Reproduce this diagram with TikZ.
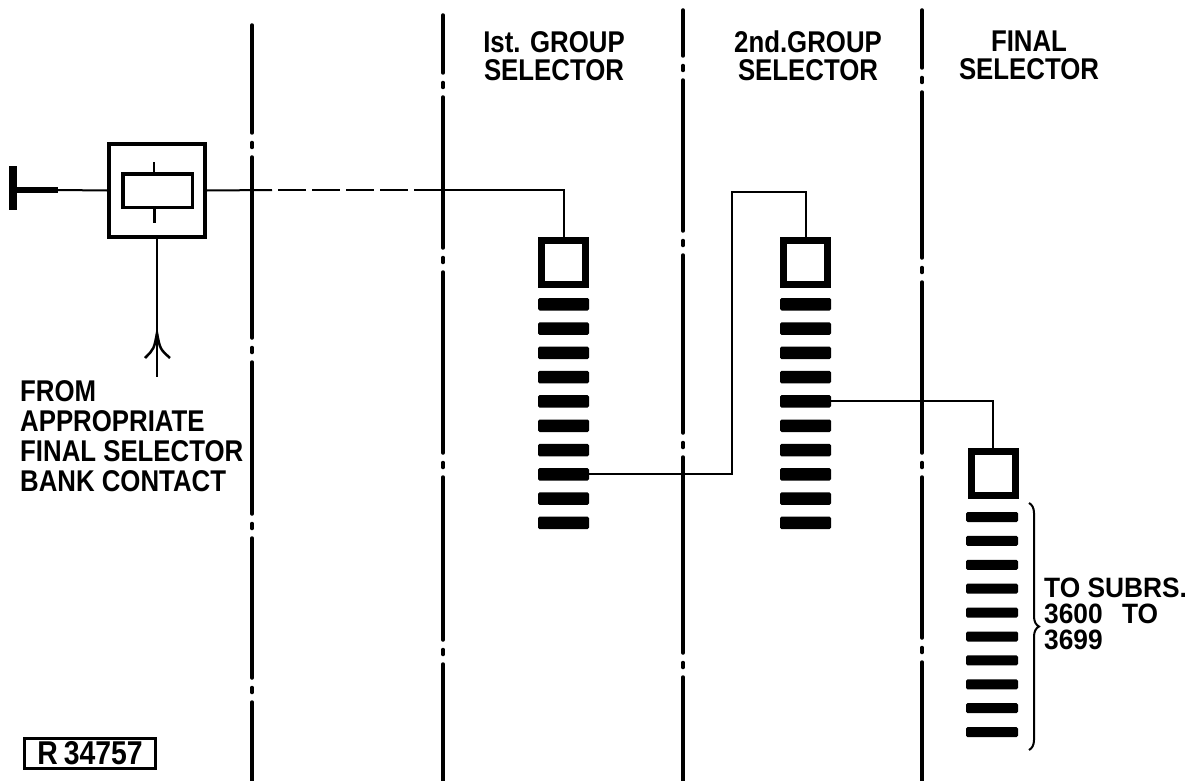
\documentclass[tikz,border=0pt]{standalone}
\usepackage{fontspec}
\newfontfamily\labfont[FakeStretch=0.86]{Liberation Sans}
\newfontfamily\widefont[FakeStretch=0.94]{Liberation Sans}
\usetikzlibrary{decorations.pathreplacing}
\begin{document}
\begin{tikzpicture}[x=1pt,y=-1pt,
  ddl/.style={line width=3.5pt, line cap=round},
  wire/.style={line width=2pt},
  bar/.style={fill=black, rounded corners=1.5pt, inner sep=0pt, minimum width=51pt, minimum height=12.5pt},
  thinbar/.style={bar, minimum width=52pt, minimum height=10pt},
  sel/.style={draw, line width=7pt, inner sep=0pt, minimum size=44pt},
  hdr/.style={inner sep=0pt, align=center, anchor=north, font=\labfont\bfseries\fontsize{30}{28}\selectfont},
  lab/.style={inner sep=0pt, align=left, anchor=north west, font=\labfont\bfseries\fontsize{30}{30}\selectfont},
  rlab/.style={inner sep=0pt, align=left, anchor=north west, font=\widefont\bfseries\fontsize{28}{26}\selectfont}]
\useasboundingbox (0,0) rectangle (1194,781);

% ---- dash-dot division lines ----
\foreach \a/\b in {25/133,157/338,362/514,538/678,702/781} \draw[ddl] (252,\a) -- (252,\b);
\foreach \d in {145,350,526,690} \draw[ddl] (252,\d-2.5) -- (252,\d+2.5);
\foreach \a/\b in {15/73,97/248,272/453,477/640,664/781} \draw[ddl] (443,\a) -- (443,\b);
\foreach \d in {85,260,465,652} \draw[ddl] (443,\d-2.5) -- (443,\d+2.5);
\foreach \a/\b in {10/56,80/231,255/433,457/653,677/781} \draw[ddl] (683,\a) -- (683,\b);
\foreach \d in {68,243,445,665} \draw[ddl] (683,\d-2.5) -- (683,\d+2.5);
\foreach \a/\b in {10/68,92/258,282/453,477/638,662/781} \draw[ddl] (922,\a) -- (922,\b);
\foreach \d in {80,270,465,650} \draw[ddl] (922,\d-2.5) -- (922,\d+2.5);

% ---- headers ----
\node[hdr] (h1) at (554,31) {Ist. GROUP\\SELECTOR};
\node[hdr] (h2) at (808,31) {2nd.GROUP\\SELECTOR};
\node[hdr] (h3) at (1029,31) {FINAL\\SELECTOR};

% ---- relay ----
\node[draw, line width=4pt, minimum width=96pt, minimum height=93pt, inner sep=0pt] (relay) at (157,190.5) {};
\node[draw, line width=3.5pt, minimum width=69.5pt, minimum height=33.5pt, inner sep=0pt] (coil) at (157.5,190.5) {};
\draw[line width=2pt] ([xshift=-4pt]coil.north) -- ++(0,-10);
\draw[line width=3pt] ([xshift=-3.5pt]coil.south) -- ++(0,14);

% terminal
\coordinate (tA) at (17,190);
\coordinate (tB) at (58,190);
\fill (9,166) rectangle (17,210);
\draw[line width=6pt] (tA) -- (tB);
\draw[wire] (tB) -- (relay.west);

% feeder with arrow
\coordinate (fe) at (157,377);
\coordinate (tip) at (157,333);
\draw[line width=2.5pt] (relay.south) -- (fe);
\draw[line width=2.5pt] (145,358) .. controls (154,349) .. (tip) .. controls (160,349) .. (170,358);

\node[lab] (fr) at (20,380) {FROM\\APPROPRIATE\\FINAL SELECTOR\\BANK CONTACT};

% ---- selectors ----
\node[sel] (sq1) at (563.5,262) {};
\foreach \k in {0,...,9} \node[bar] (b1-\k) at (563.5,304.25+24.3*\k) {};
\node[sel] (sq2) at (805.5,262.5) {};
\foreach \k in {0,...,9} \node[bar] (b2-\k) at (805.5,304.25+24.3*\k) {};
\node[sel] (sq3) at (993,473.5) {};
\foreach \k in {0,...,9} \node[thinbar] (b3-\k) at (992,517+23.9*\k) {};

% ---- connectors ----
\coordinate (dA) at (272,190);
\coordinate (dB) at (437,190);
\draw[wire] (relay.east) -- (dA);
\draw[wire, dash pattern=on 28pt off 6pt, dash phase=28pt] (dA) -- (dB);
\draw[wire] (dB) -| (sq1.north);
\coordinate (up2) at (732,192);
\draw[wire] (b1-7.east) -| (up2) -| (sq2.north);
\draw[wire] (b2-4.east) -| (sq3.north);

% brace and label
\coordinate (br1) at (1029,503);
\coordinate (br2) at (1029,750);
\draw[decorate, decoration={brace, amplitude=10pt}, line width=2pt] (br1) -- (br2);
\node[rlab] (subrs) at (1044,578) {TO SUBRS.\\3600 \hspace{12pt}TO\\3699};

% reference number
\node[draw, line width=3pt, minimum width=131pt, minimum height=30pt, inner sep=0pt,
      font=\labfont\bfseries\fontsize{33}{33}\selectfont] (ref) at (90,753.5) {R\hspace{6pt}34757};
\end{tikzpicture}
\end{document}
